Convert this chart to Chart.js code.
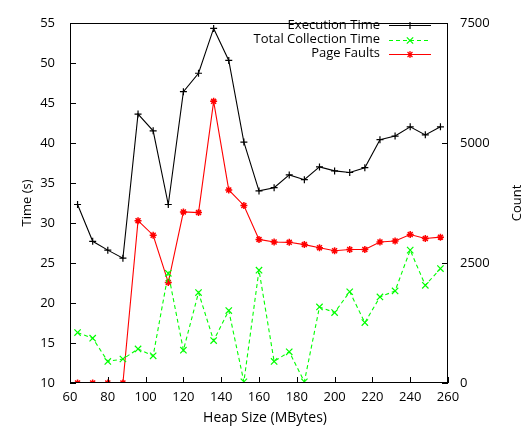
<!DOCTYPE html>
<html>
<head>
<meta charset="utf-8">
<script src="https://cdn.jsdelivr.net/npm/chart.js@4/dist/chart.umd.min.js"></script>
<style>
html,body{margin:0;padding:0;background:#fff;}
#wrap{width:530px;height:430px;}
</style>
</head>
<body>
<div id="wrap"><canvas id="c" width="530" height="430"></canvas></div>
<script>
const heapSizes = [64,72,80,88,96,104,112,120,128,136,144,152,160,168,176,184,192,200,208,216,224,232,240,248,256];
const executionTime = [32.3,27.7,26.6,25.6,43.6,41.5,32.3,46.4,48.7,54.3,50.3,40.1,34.0,34.4,36.0,35.4,37.0,36.5,36.3,36.9,40.4,40.85,42.0,41.0,42.0];
const collectionTime = [16.3,15.6,12.7,13.0,14.25,13.4,23.7,14.1,21.3,15.3,19.05,10.15,24.1,12.7,13.9,10.15,19.5,18.8,21.4,17.55,20.75,21.5,26.6,22.2,24.3];
const pageFaults = [0,0,0,0,3380,3077,2095,3562,3548,5865,4020,3697,2990,2936,2929,2882,2815,2754,2781,2781,2936,2956,3091,3010,3037];
const seriesNames = ["Execution Time","Total Collection Time","Page Faults"];
const xTitle = "Heap Size (MBytes)";
const yTitle = "Time (s)";
const y2Title = "Count";

const FAM = "'Open Sans'";
const FONT = "13px " + FAM;
const XFONT = "14px " + FAM;

const toXY = (xs, ys) => xs.map((x,i)=>({x:x,y:ys[i]}));

const framePlugin = {
  id:'frame',
  afterDatasetsDraw(chart){
    const {ctx, chartArea:a, scales} = chart;
    ctx.save();
    ctx.strokeStyle='#000';
    ctx.lineWidth=1;
    ctx.strokeRect(Math.round(a.left)+0.5, Math.round(a.top)+0.5, Math.round(a.right-a.left)-1, Math.round(a.bottom-a.top)-1);
    const L=6;
    ctx.beginPath();
    scales.x.ticks.forEach(t=>{
      const px=Math.round(scales.x.getPixelForValue(t.value))+0.5;
      ctx.moveTo(px,a.bottom); ctx.lineTo(px,a.bottom-L);
    });
    scales.y.ticks.forEach(t=>{
      const py=Math.round(scales.y.getPixelForValue(t.value))+0.5;
      ctx.moveTo(a.left,py); ctx.lineTo(a.left+L,py);
    });
    scales.y1.ticks.forEach(t=>{
      const py=Math.round(scales.y1.getPixelForValue(t.value))+0.5;
      ctx.moveTo(a.right,py); ctx.lineTo(a.right-L,py);
    });
    ctx.stroke();
    ctx.restore();
  },
  afterDraw(chart){
    const {ctx, chartArea:a} = chart;
    ctx.save();
    ctx.fillStyle='#000';
    ctx.textAlign='center'; ctx.textBaseline='middle';
    ctx.font=XFONT;
    ctx.fillText(xTitle,(a.left+a.right)/2+6,418);
    ctx.font=FONT;
    ctx.save(); ctx.translate(27,(a.top+a.bottom)/2); ctx.rotate(-Math.PI/2); ctx.fillText(yTitle,0,0); ctx.restore();
    ctx.save(); ctx.translate(517,(a.top+a.bottom)/2); ctx.rotate(-Math.PI/2); ctx.fillText(y2Title,0,0); ctx.restore();
    // legend
    const rows=[25,39.5,53.5];
    chart.data.datasets.forEach((ds,i)=>{
      const y=rows[i];
      ctx.textAlign='right'; ctx.fillStyle='#000';
      ctx.fillText(ds.label,380,y);
      ctx.strokeStyle=ds.borderColor; ctx.lineWidth=1.2;
      ctx.setLineDash(ds.borderDash||[]);
      ctx.beginPath(); ctx.moveTo(389,Math.round(y)+0.5); ctx.lineTo(431,Math.round(y)+0.5); ctx.stroke();
      ctx.setLineDash([]);
      ctx.strokeStyle=ds.pointBorderColor;
      Chart.helpers.drawPoint(ctx,{pointStyle:ds.pointStyle,radius:ds.pointRadius,borderWidth:1.2,rotation:0},410,Math.round(y)+0.5);
    });
    ctx.restore();
  }
};

const tickFont = {family:'Open Sans',size:13};

new Chart(document.getElementById('c'),{
  type:'line',
  data:{datasets:[
    {label:seriesNames[0],data:toXY(heapSizes,executionTime),yAxisID:'y',borderColor:'#000000',backgroundColor:'#000000',borderWidth:1.1,pointStyle:'cross',pointRadius:3.5,pointBorderWidth:1.2,pointBorderColor:'#000000',tension:0},
    {label:seriesNames[1],data:toXY(heapSizes,collectionTime),yAxisID:'y',borderColor:'#00ff00',backgroundColor:'#00ff00',borderWidth:1.1,borderDash:[4,3],pointStyle:'crossRot',pointRadius:4.5,pointBorderWidth:1.2,pointBorderColor:'#00ff00',tension:0},
    {label:seriesNames[2],data:toXY(heapSizes,pageFaults),yAxisID:'y1',borderColor:'#ff0000',backgroundColor:'#ff0000',borderWidth:1.1,pointStyle:'star',pointRadius:3.5,pointBorderWidth:1.5,pointBorderColor:'#ff0000',tension:0}
  ]},
  options:{
    responsive:false,animation:false,
    layout:{padding:{top:12,left:0,right:0,bottom:0}},
    plugins:{legend:{display:false},tooltip:{enabled:false}},
    scales:{
      x:{type:'linear',min:60,max:260,position:'bottom',
        ticks:{stepSize:20,color:'#000',font:tickFont,padding:6,maxRotation:0,autoSkip:false,callback:v=>String(v)},
        grid:{display:false,drawTicks:false},border:{display:false},
        afterFit(s){s.height=47;}},
      y:{type:'linear',min:10,max:55,position:'left',
        ticks:{stepSize:5,color:'#000',font:tickFont,padding:15,callback:v=>String(v)},
        grid:{display:false,drawTicks:false},border:{display:false},
        afterFit(s){s.width=70;}},
      y1:{type:'linear',min:0,max:7500,position:'right',
        ticks:{stepSize:2500,color:'#000',font:tickFont,padding:12,callback:v=>String(v)},
        grid:{display:false,drawTicks:false},border:{display:false},
        afterFit(s){s.width=82;}}
    }
  },
  plugins:[framePlugin]
});
</script>
</body>
</html>
